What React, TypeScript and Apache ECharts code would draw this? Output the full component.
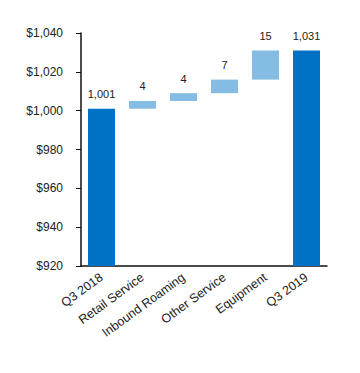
import React, { useEffect, useRef } from "react";
import * as echarts from "echarts";

const categories = ["Q3 2018", "Retail Service", "Inbound Roaming", "Other Service", "Equipment", "Q3 2019"];
const changes = [1001, 4, 4, 7, 15, 1031];
const isTotal = [true, false, false, false, false, true];
const yMin = 920;
const yMax = 1040;
const yInterval = 20;

export default function App() {
  const ref = useRef<HTMLDivElement>(null);
  useEffect(() => {
    if (!ref.current) return;
    const chart = echarts.init(ref.current, null, { renderer: "svg" });
    const bases: number[] = [];
    let running = 0;
    changes.forEach((v, i) => {
      if (isTotal[i]) {
        bases.push(0);
        running = v;
      } else {
        bases.push(running);
        running += v;
      }
    });
    const font = "'Liberation Sans', Arial, sans-serif";
    chart.setOption({
      animation: false,
      grid: { left: 81, top: 33, right: 33, bottom: 107, containLabel: false },
      xAxis: {
        type: "category",
        data: categories,
        axisLine: { lineStyle: { color: "#111", width: 1.5 } },
        axisTick: { alignWithLabel: true, length: 5, lineStyle: { color: "#111" } },
        axisLabel: {
          rotate: 36,
          interval: 0,
          color: "#222",
          fontSize: 12.5,
          fontFamily: font,
          margin: 10,
        },
      },
      yAxis: {
        type: "value",
        min: yMin,
        max: yMax,
        interval: yInterval,
        splitLine: { show: false },
        axisLine: { show: true, lineStyle: { color: "#111", width: 1.5 } },
        axisTick: { show: true, length: 5, lineStyle: { color: "#111" } },
        axisLabel: {
          color: "#222",
          fontSize: 12,
          fontFamily: font,
          margin: 18,
          formatter: (v: number) => "$" + v.toLocaleString("en-US"),
        },
      },
      series: [
        {
          type: "bar",
          stack: "w",
          data: bases,
          itemStyle: { color: "transparent" },
          barWidth: 27,
          silent: true,
        },
        {
          type: "bar",
          stack: "w",
          barWidth: 27,
          data: changes.map((v, i) => ({
            value: v,
            itemStyle: { color: isTotal[i] ? "#0072c6" : "#84bce3" },
          })),
          label: {
            show: true,
            position: "top",
            distance: 9,
            color: "#222",
            fontSize: 11,
            fontFamily: font,
            formatter: (p: any) => Number(p.value).toLocaleString("en-US"),
          },
        },
      ],
    });
    return () => chart.dispose();
  }, []);
  return <div ref={ref} style={{ width: 360, height: 373, margin: -8 }} />;
}
